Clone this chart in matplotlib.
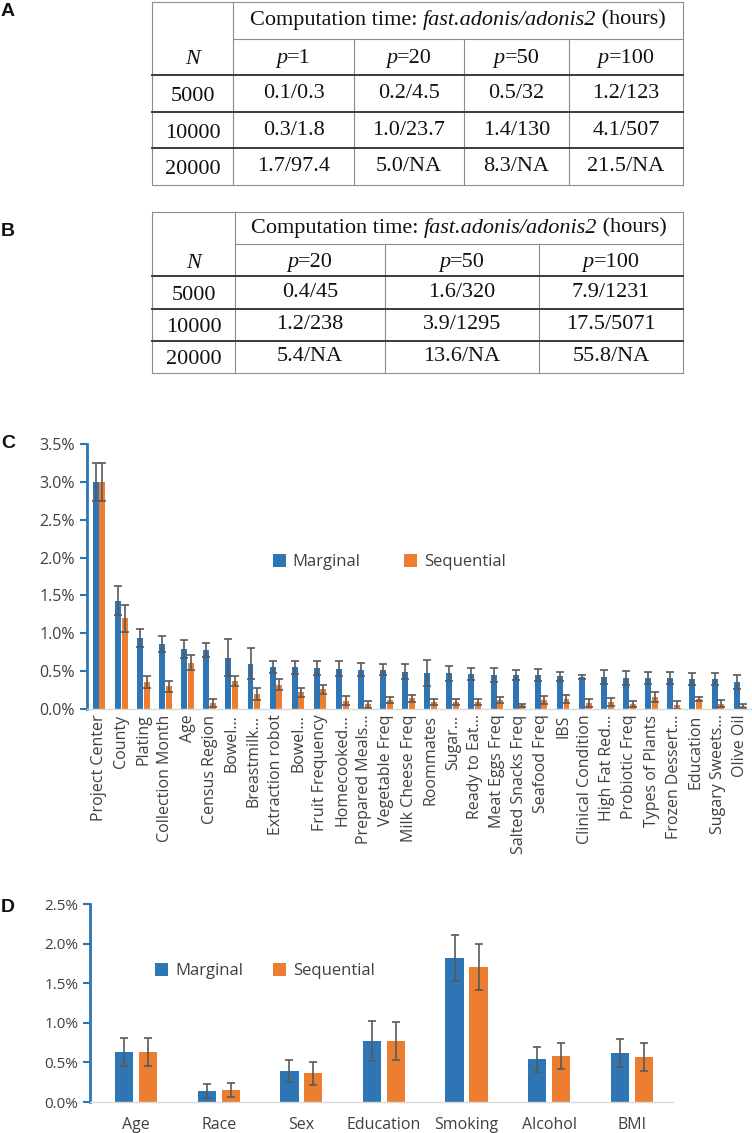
import matplotlib
matplotlib.use('Agg')
import matplotlib.pyplot as plt
import numpy as np
from matplotlib.ticker import FuncFormatter, MultipleLocator

# ---- tables A / B ----
n_rows = ['5000', '10000', '20000']
a_cols = ['1', '20', '50', '100']
a_vals = [['0.1/0.3', '0.2/4.5', '0.5/32', '1.2/123'],
          ['0.3/1.8', '1.0/23.7', '1.4/130', '4.1/507'],
          ['1.7/97.4', '5.0/NA', '8.3/NA', '21.5/NA']]
b_cols = ['20', '50', '100']
b_vals = [['0.4/45', '1.6/320', '7.9/1231'],
          ['1.2/238', '3.9/1295', '17.5/5071'],
          ['5.4/NA', '13.6/NA', '55.8/NA']]
title_parts = [('Computation time: ', 'normal'), ('fast.adonis/adonis2', 'italic'), (' (hours)', 'normal')]

# ---- panel C ----
c_labels = ['Project Center', 'County', 'Plating', 'Collection Month', 'Age',
            'Census Region', 'Bowel…', 'Breastmilk…', 'Extraction robot', 'Bowel…',
            'Fruit Frequency', 'Homecooked…', 'Prepared Meals…', 'Vegetable Freq',
            'Milk Cheese Freq', 'Roommates', 'Sugar…', 'Ready to Eat…',
            'Meat Eggs Freq', 'Salted Snacks Freq', 'Seafood Freq', 'IBS',
            'Clinical Condition', 'High Fat Red…', 'Probiotic Freq', 'Types of Plants',
            'Frozen Dessert…', 'Education', 'Sugary Sweets…', 'Olive Oil']
c_marg = [3.00, 1.43, 0.94, 0.86, 0.79, 0.78, 0.68, 0.60, 0.55, 0.55,
          0.54, 0.53, 0.52, 0.52, 0.49, 0.48, 0.47, 0.46, 0.45, 0.45,
          0.45, 0.43, 0.42, 0.42, 0.41, 0.41, 0.41, 0.40, 0.40, 0.36]
c_marg_err = [0.25, 0.19, 0.12, 0.11, 0.12, 0.09, 0.24, 0.20, 0.08, 0.09,
              0.09, 0.10, 0.09, 0.07, 0.10, 0.17, 0.10, 0.08, 0.09, 0.07,
              0.08, 0.06, 0.03, 0.09, 0.09, 0.08, 0.08, 0.08, 0.08, 0.09]
c_seq = [3.00, 1.20, 0.36, 0.30, 0.61, 0.08, 0.37, 0.20, 0.32, 0.22,
         0.26, 0.11, 0.06, 0.12, 0.14, 0.09, 0.09, 0.09, 0.12, 0.05,
         0.12, 0.13, 0.08, 0.09, 0.07, 0.16, 0.05, 0.13, 0.07, 0.04]
c_seq_err = [0.25, 0.18, 0.08, 0.07, 0.10, 0.05, 0.07, 0.08, 0.07, 0.06,
             0.06, 0.06, 0.05, 0.04, 0.05, 0.04, 0.04, 0.04, 0.04, 0.02,
             0.05, 0.05, 0.05, 0.05, 0.04, 0.07, 0.05, 0.03, 0.05, 0.03]

# ---- panel D ----
d_labels = ['Age', 'Race', 'Sex', 'Education', 'Smoking', 'Alcohol', 'BMI']
d_marg = [0.63, 0.14, 0.39, 0.77, 1.82, 0.54, 0.62]
d_marg_err = [0.18, 0.09, 0.14, 0.25, 0.29, 0.16, 0.18]
d_seq = [0.63, 0.15, 0.36, 0.77, 1.71, 0.58, 0.57]
d_seq_err = [0.18, 0.09, 0.14, 0.24, 0.29, 0.16, 0.18]

BLUE = '#2E75B6'
ORANGE = '#ED7D31'
TXT = '#404040'
SANS = ['Open Sans', 'DejaVu Sans']
SERIF = 'Liberation Serif'

W, H = 752, 1133
fig = plt.figure(figsize=(W / 100, H / 100), dpi=100)
renderer = fig.canvas.get_renderer()

# pixel-space axes for tables and panel letters
tab = fig.add_axes([0, 0, 1, 1])
tab.set_xlim(0, W)
tab.set_ylim(H, 0)
tab.axis('off')

TFS = 16


def serif_text(ax, x, y, s, style='normal', ha='center'):
    return ax.text(x, y, s, family=SERIF, fontsize=TFS, style=style, ha=ha,
                   va='center', color='#111111')


def label_parts(ax, cx, cy, parts):
    # lay out mixed upright / italic pieces side by side, centred on cx
    texts = [serif_text(ax, 0, cy, s, st, ha='left') for s, st in parts]
    widths = [t.get_window_extent(renderer).width for t in texts]
    x = cx - sum(widths) / 2
    for t, w in zip(texts, widths):
        t.set_x(x)
        x += w


def draw_table(ax, top, bottom, edges, cols, vals):
    rows = np.linspace(top, bottom, 6)
    left, right = edges[0], edges[-1]
    grey, dark = '#8c8c8c', '#3a3a3a'
    ax.plot([left, right, right, left, left], [top, top, bottom, bottom, top], color=grey, lw=0.8)
    ax.plot([edges[1]] * 2, [top, bottom], color=grey, lw=0.8)
    for x in edges[2:-1]:
        ax.plot([x, x], [rows[1], bottom], color=grey, lw=0.8)
    ax.plot([edges[1], right], [rows[1]] * 2, color=grey, lw=0.8)
    for y in rows[2:5]:
        ax.plot([left, right], [y, y], color=dark, lw=1.4)
    label_parts(ax, (edges[1] + right) / 2, (rows[0] + rows[1]) / 2, title_parts)
    cx0 = (edges[0] + edges[1]) / 2
    serif_text(ax, cx0, (rows[1] + rows[2]) / 2 + 3, 'N', style='italic')
    for j, c in enumerate(cols):
        cx = (edges[j + 1] + edges[j + 2]) / 2
        label_parts(ax, cx, (rows[1] + rows[2]) / 2 + 2, [('p', 'italic'), ('=' + c, 'normal')])
    for i, n in enumerate(n_rows):
        cy = (rows[i + 2] + rows[i + 3]) / 2
        serif_text(ax, cx0, cy + 3, n)
        for j, v in enumerate(vals[i]):
            cx = (edges[j + 1] + edges[j + 2]) / 2
            serif_text(ax, cx, cy, v)


draw_table(tab, 2, 185, [152, 233, 354, 464, 569, 683], a_cols, a_vals)
draw_table(tab, 212, 373, [152, 235, 385, 539, 683], b_cols, b_vals)

for lab, y in [('A', 12), ('B', 231), ('C', 443), ('D', 907)]:
    tab.text(1, y, lab, family='Liberation Sans', fontsize=14, fontweight='bold',
             ha='left', va='center', color='#111111')

ekw = dict(ecolor='#595959', elinewidth=1.2, capsize=3, capthick=1.2)
pct = FuncFormatter(lambda v, _: f'{v:.1f}%')


def style_axes(ax, top, ysize):
    ax.set_ylim(0, top)
    ax.yaxis.set_major_locator(MultipleLocator(0.5))
    ax.yaxis.set_major_formatter(pct)
    for s in ['top', 'right']:
        ax.spines[s].set_visible(False)
    ax.spines['left'].set_color(BLUE)
    ax.spines['left'].set_linewidth(2)
    ax.spines['bottom'].set_color('#d9d9d9')
    ax.spines['bottom'].set_linewidth(1)
    ax.tick_params(axis='y', colors=BLUE, length=5, width=1.5, labelcolor=TXT, labelsize=ysize)
    ax.tick_params(axis='x', length=0, labelcolor=TXT)
    for t in ax.get_yticklabels():
        t.set_family(SANS)


# ---- panel C ----
axc = fig.add_axes([87 / W, (H - 709) / H, (751 - 87) / W, (709 - 444) / H])
xc = np.arange(len(c_labels))
axc.bar(xc - 0.15, c_marg, 0.27, yerr=c_marg_err, color=BLUE, error_kw=ekw, label='Marginal')
axc.bar(xc + 0.15, c_seq, 0.27, yerr=c_seq_err, color=ORANGE, error_kw=ekw, label='Sequential')
axc.set_xlim(-0.55, 29.5)
axc.set_xticks(xc)
axc.set_xticklabels(c_labels, rotation=90, family=SANS, fontsize=11.5)
style_axes(axc, 3.5, 11.5)
axc.tick_params(axis='x', pad=4)
lg = axc.legend(loc='center', bbox_to_anchor=(0.455, 0.555), ncol=2, frameon=False,
                handlelength=0.8, handleheight=0.8, columnspacing=2.6, handletextpad=0.4,
                prop={'family': SANS, 'size': 12})
for t in lg.get_texts():
    t.set_color(TXT)

# ---- panel D ----
axd = fig.add_axes([90 / W, (H - 1102) / H, (673 - 90) / W, (1102 - 904) / H])
xd = np.arange(len(d_labels))
axd.bar(xd - 0.145, d_marg, 0.22, yerr=d_marg_err, color=BLUE, error_kw=ekw, label='Marginal')
axd.bar(xd + 0.145, d_seq, 0.22, yerr=d_seq_err, color=ORANGE, error_kw=ekw, label='Sequential')
axd.set_xlim(-0.56, 6.5)
axd.set_xticks(xd)
axd.set_xticklabels(d_labels, family=SANS, fontsize=11.5)
style_axes(axd, 2.5, 11)
axd.tick_params(axis='x', pad=11)
lg = axd.legend(loc='center', bbox_to_anchor=(0.3, 0.66), ncol=2, frameon=False,
                handlelength=0.8, handleheight=0.8, columnspacing=1.8, handletextpad=0.4,
                prop={'family': SANS, 'size': 12})
for t in lg.get_texts():
    t.set_color(TXT)

fig.savefig('out.png', dpi=100)
